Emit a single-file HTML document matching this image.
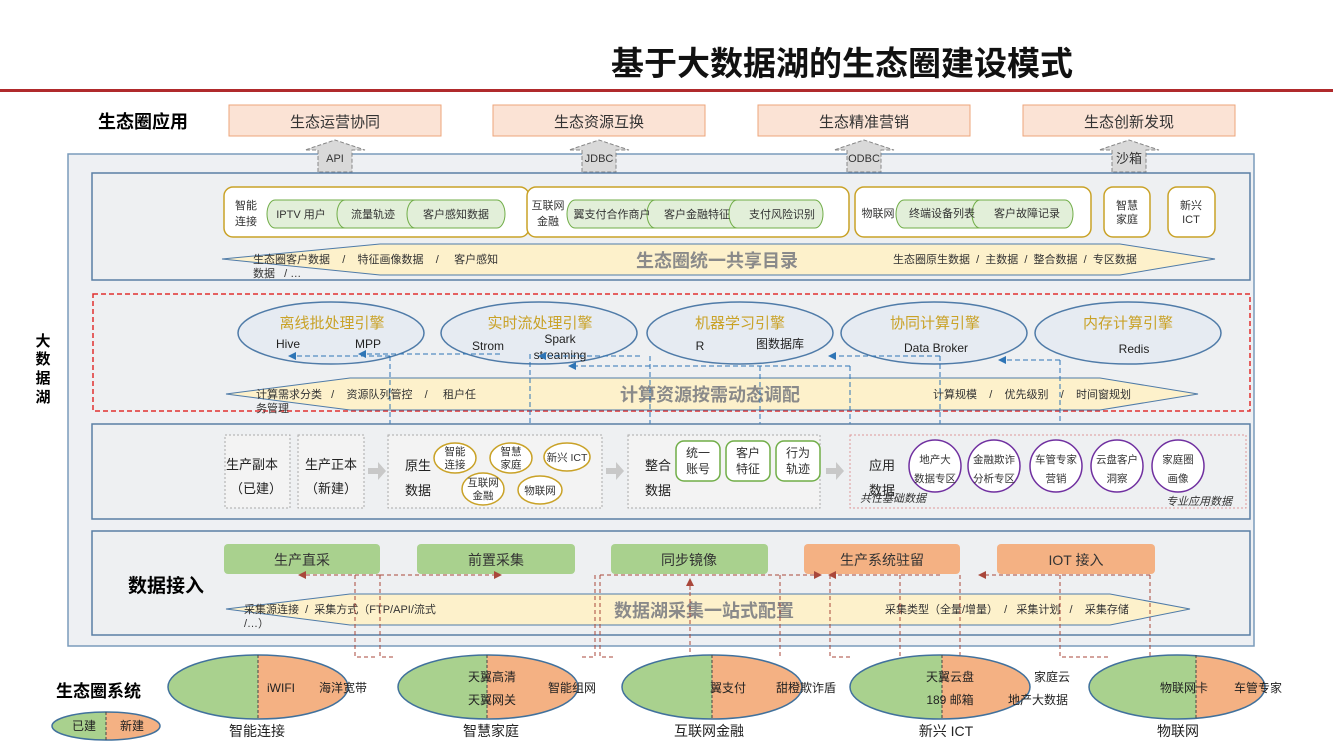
<!DOCTYPE html>
<html><head><meta charset="utf-8"><style>
body{margin:0;background:#fff}
svg{display:block;font-family:"Liberation Sans","Noto Sans CJK SC",sans-serif}
.pre{white-space:pre}
</style></head><body>
<svg width="1333" height="750" viewBox="0 0 1333 750" xmlns="http://www.w3.org/2000/svg">
<defs>
<marker id="ab" markerWidth="8" markerHeight="8" refX="6" refY="4" orient="auto"><path d="M0,0 L8,4 L0,8z" fill="#2e75b6"/></marker>
<marker id="ar" markerWidth="8" markerHeight="8" refX="6" refY="4" orient="auto"><path d="M0,0 L8,4 L0,8z" fill="#a9473b"/></marker>
</defs>
<rect width="1333" height="750" fill="#fff"/>
<text x="842" y="75" font-size="33" font-weight="bold" text-anchor="middle" fill="#111">基于大数据湖的生态圈建设模式</text>
<rect x="0" y="89" width="1333" height="3" fill="#b02a2c"/>

<text x="98" y="128" font-size="18" font-weight="bold">生态圈应用</text>
<g font-size="15" text-anchor="middle" fill="#333">
<rect x="229" y="105" width="212" height="31" fill="#fbe3d5" stroke="#eea47a"/><text x="335" y="127">生态运营协同</text>
<rect x="493" y="105" width="212" height="31" fill="#fbe3d5" stroke="#eea47a"/><text x="599" y="127">生态资源互换</text>
<rect x="758" y="105" width="212" height="31" fill="#fbe3d5" stroke="#eea47a"/><text x="864" y="127">生态精准营销</text>
<rect x="1023" y="105" width="212" height="31" fill="#fbe3d5" stroke="#eea47a"/><text x="1129" y="127">生态创新发现</text>
</g>

<rect x="68" y="154" width="1186" height="492" fill="#eef0f3" stroke="#7a9bbb" stroke-width="1.5"/>
<g font-size="11" text-anchor="middle" fill="#333">
<g stroke="#888" stroke-dasharray="4,2" fill="#d9d9d9">
<path d="M318,172 L318,150 L305,150 L335,140 L365,150 L352,150 L352,172z"/>
<path d="M582,172 L582,150 L569,150 L599,140 L629,150 L616,150 L616,172z"/>
<path d="M847,172 L847,150 L834,150 L864,140 L894,150 L881,150 L881,172z"/>
<path d="M1112,172 L1112,150 L1099,150 L1129,140 L1159,150 L1146,150 L1146,172z"/>
</g>
<text x="335" y="162">API</text><text x="599" y="162">JDBC</text><text x="864" y="162">ODBC</text><text x="1129" y="163" font-size="13">沙箱</text>
</g>

<text font-size="15" font-weight="bold" x="43" y="346" text-anchor="middle">大</text>
<text font-size="15" font-weight="bold" x="43" y="364" text-anchor="middle">数</text>
<text font-size="15" font-weight="bold" x="43" y="383" text-anchor="middle">据</text>
<text font-size="15" font-weight="bold" x="43" y="402" text-anchor="middle">湖</text>

<rect x="92" y="173" width="1158" height="107" fill="#eef0f2" stroke="#5a7fa5" stroke-width="1.5"/>
<path d="M222,259 L380,244 L1120,244 L1215,259 L1120,275 L380,275z" fill="#fdf1cb" stroke="#4f7ba8"/>
<text x="717" y="267" font-size="18" font-weight="bold" fill="#8a8a8a" text-anchor="middle">生态圈统一共享目录</text>
<g font-size="11" fill="#333">
<text class="pre" x="253" y="263">生态圈客户数据    /    特征画像数据    /     客户感知</text>
<text class="pre" x="253" y="277">数据   / …</text>
<text class="pre" x="893" y="263">生态圈原生数据  /  主数据  /  整合数据  /  专区数据</text>
</g>
<g fill="#fff" stroke="#c9a227" stroke-width="1.5">
<rect x="224" y="187" width="305" height="50" rx="9"/>
<rect x="527" y="187" width="322" height="50" rx="9"/>
<rect x="855" y="187" width="236" height="50" rx="9"/>
<rect x="1104" y="187" width="46" height="50" rx="9"/>
<rect x="1168" y="187" width="47" height="50" rx="9"/>
</g>
<g fill="#e2efd9" stroke="#70ad47">
<path d="M275,200 H345 A8,14 0 0 1 345,228 H275 A8,14 0 0 1 275,200z"/>
<path d="M345,200 H415 A8,14 0 0 1 415,228 H345 A8,14 0 0 1 345,200z"/>
<path d="M415,200 H497 A8,14 0 0 1 497,228 H415 A8,14 0 0 1 415,200z"/>
<path d="M575,200 H655 A8,14 0 0 1 655,228 H575 A8,14 0 0 1 575,200z"/>
<path d="M655,200 H737 A8,14 0 0 1 737,228 H655 A8,14 0 0 1 655,200z"/>
<path d="M737,200 H815 A8,14 0 0 1 815,228 H737 A8,14 0 0 1 737,200z"/>
<path d="M904,200 H980 A8,14 0 0 1 980,228 H904 A8,14 0 0 1 904,200z"/>
<path d="M980,200 H1065 A8,14 0 0 1 1065,228 H980 A8,14 0 0 1 980,200z"/>
</g>
<g font-size="11" fill="#333" text-anchor="middle">
<text x="246" y="209">智能</text><text x="246" y="225">连接</text>
<text x="301" y="218">IPTV 用户</text><text x="373" y="218">流量轨迹</text><text x="456" y="218">客户感知数据</text>
<text x="548" y="209">互联网</text><text x="548" y="225">金融</text>
<text x="612" y="218">翼支付合作商户</text><text x="697" y="218">客户金融特征</text><text x="782" y="218">支付风险识别</text>
<text x="878" y="217">物联网</text><text x="942" y="217">终端设备列表</text><text x="1027" y="217">客户故障记录</text>
<text x="1127" y="209">智慧</text><text x="1127" y="223">家庭</text>
<text x="1191" y="209">新兴</text><text x="1191" y="223">ICT</text>
</g>

<rect x="93" y="294" width="1157" height="117" fill="#eef0f2" stroke="#e03030" stroke-width="1.5" stroke-dasharray="5,3"/>
<path d="M226,394 L350,378 L1100,378 L1198,394 L1100,410 L350,410z" fill="#fdf1cb" stroke="#4f7ba8"/>
<text x="710" y="401" font-size="18" font-weight="bold" fill="#8a8a8a" text-anchor="middle">计算资源按需动态调配</text>
<g font-size="11" fill="#333">
<text class="pre" x="256" y="398">计算需求分类   /    资源队列管控    /     租户任</text>
<text class="pre" x="256" y="412">务管理</text>
<text class="pre" x="933" y="398">计算规模    /    优先级别    /    时间窗规划</text>
</g>
<g fill="#e6ebf2" stroke="#4f7ba8" stroke-width="1.5">
<ellipse cx="331" cy="333" rx="93" ry="31"/><ellipse cx="539" cy="333" rx="98" ry="31"/>
<ellipse cx="740" cy="333" rx="93" ry="31"/><ellipse cx="934" cy="333" rx="93" ry="31"/><ellipse cx="1128" cy="333" rx="93" ry="31"/>
</g>
<g font-size="15" fill="#c9a227" text-anchor="middle">
<text x="332" y="328">离线批处理引擎</text><text x="540" y="328">实时流处理引擎</text><text x="740" y="328">机器学习引擎</text><text x="935" y="328">协同计算引擎</text><text x="1128" y="328">内存计算引擎</text>
</g>
<g font-size="12" fill="#222" text-anchor="middle">
<text x="288" y="348">Hive</text><text x="368" y="348">MPP</text><text x="488" y="350">Strom</text>
<text x="560" y="343">Spark</text><text x="560" y="359">streaming</text>
<text x="700" y="350">R</text><text x="780" y="348">图数据库</text>
<text x="936" y="352">Data Broker</text><text x="1134" y="353">Redis</text>
</g>
<g stroke="#2e75b6" stroke-dasharray="5,3" fill="none">
<path d="M390,356 H290" marker-end="url(#ab)"/>
<path d="M500,354 H360" marker-end="url(#ab)"/>
<path d="M640,356 H540" marker-end="url(#ab)"/>
<path d="M850,366 H570" marker-end="url(#ab)"/>
<path d="M940,356 H830" marker-end="url(#ab)"/>
<path d="M1060,360 H1000" marker-end="url(#ab)"/>
<path d="M390,356 V435 M530,354 V430 M650,356 V440 M850,366 V440 M940,356 V440 M1060,360 V440 M760,366 V440"/>
</g>

<rect x="92" y="424" width="1158" height="95" fill="#eef0f2" stroke="#5a7fa5" stroke-width="1.5"/>
<g fill="#f3f3f3" stroke="#aaa" stroke-dasharray="2,2">
<rect x="225" y="435" width="65" height="73"/><rect x="298" y="435" width="66" height="73"/>
<rect x="388" y="435" width="214" height="73"/><rect x="628" y="435" width="192" height="73"/>
</g>
<rect x="850" y="435" width="396" height="73" fill="none" stroke="#d99" stroke-dasharray="2,2"/>
<path d="M368,468 h10 v-6 l8,9 -8,9 v-6 h-10z M606,468 h10 v-6 l8,9 -8,9 v-6 h-10z M826,468 h10 v-6 l8,9 -8,9 v-6 h-10z" fill="#c8c8c8"/>
<g font-size="13" fill="#222" text-anchor="middle">
<text x="252" y="469">生产副本</text><text x="256" y="493">（已建）</text>
<text x="331" y="469">生产正本</text><text x="331" y="493">（新建）</text>
<text x="418" y="470">原生</text><text x="418" y="495">数据</text>
<text x="658" y="470">整合</text><text x="658" y="495">数据</text>
<text x="882" y="470">应用</text><text x="882" y="495">数据</text>
</g>
<g fill="#fff" stroke="#c9a227" stroke-width="1.5">
<ellipse cx="455" cy="458" rx="21" ry="15"/><ellipse cx="511" cy="458" rx="21" ry="15"/><ellipse cx="567" cy="457" rx="23" ry="14"/>
<ellipse cx="483" cy="489" rx="21" ry="16"/><ellipse cx="540" cy="490" rx="22" ry="14"/>
</g>
<g font-size="10.5" fill="#333" text-anchor="middle">
<text x="455" y="455">智能</text><text x="455" y="468">连接</text>
<text x="511" y="455">智慧</text><text x="511" y="468">家庭</text>
<text x="567" y="461">新兴 ICT</text>
<text x="483" y="486">互联网</text><text x="483" y="499">金融</text>
<text x="540" y="494">物联网</text>
</g>
<g fill="#fff" stroke="#70ad47" stroke-width="1.5">
<rect x="676" y="441" width="44" height="40" rx="8"/><rect x="726" y="441" width="44" height="40" rx="8"/><rect x="776" y="441" width="44" height="40" rx="8"/>
</g>
<g font-size="12" fill="#333" text-anchor="middle">
<text x="698" y="457">统一</text><text x="698" y="473">账号</text>
<text x="748" y="457">客户</text><text x="748" y="473">特征</text>
<text x="798" y="457">行为</text><text x="798" y="473">轨迹</text>
</g>
<g fill="#fff" stroke="#7030a0" stroke-width="1.5">
<circle cx="935" cy="466" r="26"/><circle cx="994" cy="466" r="26"/><circle cx="1056" cy="466" r="26"/><circle cx="1117" cy="466" r="26"/><circle cx="1178" cy="466" r="26"/>
</g>
<g font-size="10.5" fill="#333" text-anchor="middle">
<text x="935" y="463">地产大</text><text x="935" y="482">数据专区</text>
<text x="994" y="463">金融欺诈</text><text x="994" y="482">分析专区</text>
<text x="1056" y="463">车管专家</text><text x="1056" y="482">营销</text>
<text x="1117" y="463">云盘客户</text><text x="1117" y="482">洞察</text>
<text x="1178" y="463">家庭圈</text><text x="1178" y="482">画像</text>
</g>
<text x="860" y="502" font-size="11" font-style="italic" fill="#333">共性基础数据</text>
<text x="1166" y="505" font-size="11" font-style="italic" fill="#333">专业应用数据</text>

<rect x="92" y="531" width="1158" height="104" fill="#eef0f2" stroke="#5a7fa5" stroke-width="1.5"/>
<text x="128" y="592" font-size="19" font-weight="bold">数据接入</text>
<rect x="224" y="544" width="156" height="30" rx="4" fill="#a9d18e"/>
<rect x="417" y="544" width="158" height="30" rx="4" fill="#a9d18e"/>
<rect x="611" y="544" width="157" height="30" rx="4" fill="#a9d18e"/>
<rect x="804" y="544" width="156" height="30" rx="4" fill="#f4b183"/>
<rect x="997" y="544" width="158" height="30" rx="4" fill="#f4b183"/>
<g font-size="14" fill="#333" text-anchor="middle">
<text x="302" y="565">生产直采</text><text x="496" y="565">前置采集</text><text x="689" y="565">同步镜像</text><text x="882" y="565">生产系统驻留</text><text x="1076" y="565">IOT 接入</text>
</g>
<path d="M226,609 L350,594 L1110,594 L1190,609 L1110,625 L350,625z" fill="#fdf1cb" stroke="#4f7ba8"/>
<text x="704" y="617" font-size="18" font-weight="bold" fill="#8a8a8a" text-anchor="middle">数据湖采集一站式配置</text>
<g font-size="11" fill="#333">
<text class="pre" x="244" y="613">采集源连接  /  采集方式（FTP/API/流式</text>
<text class="pre" x="244" y="627">/…）</text>
<text class="pre" x="885" y="613">采集类型（全量/增量）  /   采集计划   /    采集存储</text>
</g>
<g stroke="#a9473b" stroke-dasharray="4,3" fill="none">
<path d="M380,575 H300" marker-end="url(#ar)"/>
<path d="M380,575 H500" marker-end="url(#ar)"/>
<path d="M600,575 H820" marker-end="url(#ar)"/>
<path d="M940,575 H830" marker-end="url(#ar)"/>
<path d="M1150,575 H980" marker-end="url(#ar)"/>
<path d="M690,590 V580" marker-end="url(#ar)"/>
<path d="M355,575 V657 H375 M380,575 V657 H395 M595,575 V657 H580 M600,575 V657 H615 M690,585 V657 M780,575 V657 M830,575 V657 H850 M900,575 V657 M960,575 V657 M1060,575 V657 H1075 H1110 M1150,575 V657"/>
</g>

<text x="56" y="697" font-size="17" font-weight="bold">生态圈系统</text>
<defs>
<clipPath id="c1"><ellipse cx="258" cy="687" rx="90" ry="32"/></clipPath>
<clipPath id="c2"><ellipse cx="488" cy="687" rx="90" ry="32"/></clipPath>
<clipPath id="c3"><ellipse cx="712" cy="687" rx="90" ry="32"/></clipPath>
<clipPath id="c4"><ellipse cx="940" cy="687" rx="90" ry="32"/></clipPath>
<clipPath id="c5"><ellipse cx="1177" cy="687" rx="88" ry="32"/></clipPath>
<clipPath id="c6"><ellipse cx="106" cy="726" rx="54" ry="14"/></clipPath>
</defs>
<g clip-path="url(#c1)"><rect x="160" y="650" width="98" height="80" fill="#a9d18e"/><rect x="258" y="650" width="100" height="80" fill="#f4b183"/></g>
<g clip-path="url(#c2)"><rect x="390" y="650" width="97" height="80" fill="#a9d18e"/><rect x="487" y="650" width="100" height="80" fill="#f4b183"/></g>
<g clip-path="url(#c3)"><rect x="610" y="650" width="102" height="80" fill="#a9d18e"/><rect x="712" y="650" width="100" height="80" fill="#f4b183"/></g>
<g clip-path="url(#c4)"><rect x="845" y="650" width="97" height="80" fill="#a9d18e"/><rect x="942" y="650" width="100" height="80" fill="#f4b183"/></g>
<g clip-path="url(#c5)"><rect x="1085" y="650" width="111" height="80" fill="#a9d18e"/><rect x="1196" y="650" width="90" height="80" fill="#f4b183"/></g>
<g clip-path="url(#c6)"><rect x="50" y="710" width="56" height="32" fill="#a9d18e"/><rect x="106" y="710" width="60" height="32" fill="#f4b183"/></g>
<g fill="none" stroke="#41719c" stroke-width="1.5">
<ellipse cx="258" cy="687" rx="90" ry="32"/><ellipse cx="488" cy="687" rx="90" ry="32"/><ellipse cx="712" cy="687" rx="90" ry="32"/><ellipse cx="940" cy="687" rx="90" ry="32"/><ellipse cx="1177" cy="687" rx="88" ry="32"/><ellipse cx="106" cy="726" rx="54" ry="14"/>
</g>
<g stroke="#444" stroke-dasharray="3,2">
<path d="M258,655 V719 M487,655 V719 M712,655 V719 M942,655 V719 M1196,655 V719 M106,712 V740"/>
</g>
<g font-size="12" fill="#222" text-anchor="middle">
<text x="281" y="692">iWIFI</text><text x="343" y="692">海洋宽带</text>
<text x="492" y="681">天翼高清</text><text x="492" y="704">天翼网关</text><text x="572" y="692">智能组网</text>
<text x="728" y="692">翼支付</text><text x="806" y="692">甜橙欺诈盾</text>
<text x="950" y="681">天翼云盘</text><text x="950" y="704">189 邮箱</text><text x="1052" y="681">家庭云</text><text x="1038" y="704">地产大数据</text>
<text x="1184" y="692">物联网卡</text><text x="1258" y="692">车管专家</text>
<text x="84" y="730">已建</text><text x="132" y="730">新建</text>
</g>
<g font-size="14" fill="#222" text-anchor="middle">
<text x="257" y="736">智能连接</text><text x="491" y="736">智慧家庭</text><text x="709" y="736">互联网金融</text><text x="946" y="736">新兴 ICT</text><text x="1178" y="736">物联网</text>
</g>
</svg>
</body></html>
